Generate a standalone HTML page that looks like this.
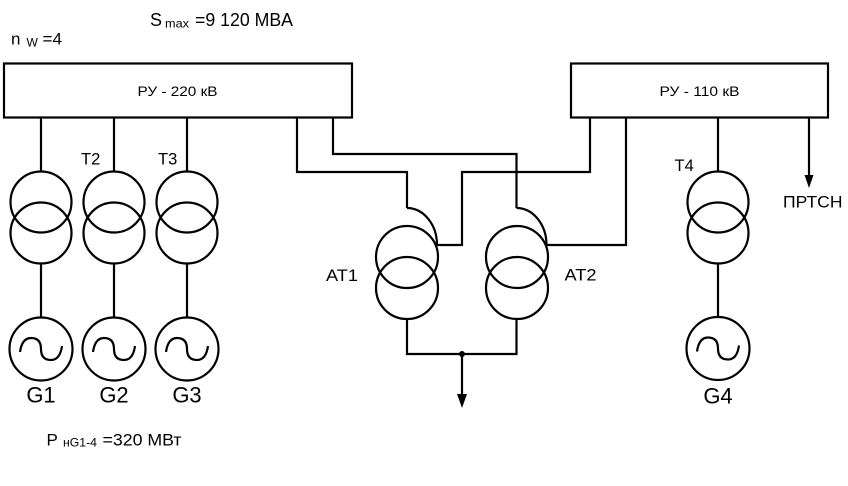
<!DOCTYPE html>
<html>
<head>
<meta charset="utf-8">
<style>
  html, body { margin: 0; padding: 0; background: #ffffff; }
  svg { display: block; }
  text { font-family: "Liberation Sans", "DejaVu Sans", sans-serif; fill: #000; }
</style>
</head>
<body>
<svg width="848" height="486" viewBox="0 0 848 486" xmlns="http://www.w3.org/2000/svg">
  <rect x="0" y="0" width="848" height="486" fill="#ffffff"/>

  <!-- header texts -->
  <text x="150" y="26" font-size="18">S</text>
  <text x="165" y="27.5" font-size="12" textLength="24" lengthAdjust="spacingAndGlyphs">max</text>
  <text x="195" y="26" font-size="18" textLength="98" lengthAdjust="spacingAndGlyphs">=9 120 MBA</text>

  <text x="11" y="44.5" font-size="17">n</text>
  <text x="26.5" y="46.5" font-size="12">W</text>
  <text x="42.5" y="44.5" font-size="17" textLength="19.5" lengthAdjust="spacingAndGlyphs">=4</text>

  <g fill="none" stroke="#000" stroke-width="2.2">
    <!-- switchgear boxes -->
    <rect x="4" y="63.5" width="348" height="54" fill="#fff"/>
    <rect x="571" y="63.5" width="257" height="54" fill="#fff"/>

    <!-- T1..T3 connections -->
    <line x1="41" y1="117.5" x2="41" y2="172"/>
    <line x1="114" y1="117.5" x2="114" y2="172"/>
    <line x1="187" y1="117.5" x2="187" y2="172"/>
    <line x1="41" y1="263" x2="41" y2="318"/>
    <line x1="114" y1="263" x2="114" y2="318"/>
    <line x1="187" y1="263" x2="187" y2="318"/>

    <!-- transformers T1..T3 -->
    <circle cx="41" cy="202" r="30.5"/>
    <circle cx="41" cy="233" r="30.5"/>
    <circle cx="114" cy="202" r="30.5"/>
    <circle cx="114" cy="233" r="30.5"/>
    <circle cx="187" cy="202" r="30.5"/>
    <circle cx="187" cy="233" r="30.5"/>

    <!-- generators G1..G3 -->
    <circle cx="41" cy="349" r="31.5"/>
    <circle cx="114" cy="349" r="31.5"/>
    <circle cx="187" cy="349" r="31.5"/>
    <path d="M20 352 Q22 338 31 338 Q41 338 41 349 Q41 360 51 360 Q60 360 62 346"/>
    <path d="M93 352 Q95 338 104 338 Q114 338 114 349 Q114 360 124 360 Q133 360 135 346"/>
    <path d="M166 352 Q168 338 177 338 Q187 338 187 349 Q187 360 197 360 Q206 360 208 346"/>

    <!-- 220 kV to AT1 -->
    <polyline points="297,117.5 297,172 407,172 407,208"/>
    <path d="M407 208 A30 37 0 0 1 437 245"/>
    <!-- 220 kV to AT2 -->
    <polyline points="333,117.5 333,154 516.5,154 516.5,208"/>
    <path d="M516.5 208 A30 37 0 0 1 546.5 245"/>

    <!-- AT1 to 110 kV -->
    <polyline points="436,245 462,245 462,172 590,172 590,117.5"/>
    <!-- AT2 to 110 kV -->
    <polyline points="546,245 626,245 626,117.5"/>

    <!-- autotransformers -->
    <circle cx="407" cy="257" r="31"/>
    <circle cx="407" cy="288" r="31"/>
    <circle cx="517" cy="257" r="31"/>
    <circle cx="517" cy="288" r="31"/>

    <!-- AT low-voltage side -->
    <polyline points="407,319 407,354 516.5,354 516.5,319"/>
    <line x1="462" y1="354" x2="462" y2="395"/>

    <!-- T4 & G4 -->
    <line x1="718" y1="117.5" x2="718" y2="172"/>
    <circle cx="718" cy="202" r="30.5"/>
    <circle cx="718" cy="233" r="30.5"/>
    <line x1="718" y1="263" x2="718" y2="317"/>
    <circle cx="718" cy="348.5" r="31.5"/>
    <path d="M697 351.5 Q699 337.5 708 337.5 Q718 337.5 718 348.5 Q718 359.5 728 359.5 Q737 359.5 739 345.5"/>

    <!-- PRTSN feeder -->
    <line x1="809" y1="117.5" x2="809" y2="176"/>
  </g>

  <!-- arrowheads and junction -->
  <circle cx="462" cy="354" r="3" fill="#000"/>
  <polygon points="457,394 467,394 462,408" fill="#000"/>
  <polygon points="804.5,175 813.5,175 809,188" fill="#000"/>

  <!-- box labels -->
  <text x="137.5" y="96" font-size="14" textLength="80" lengthAdjust="spacingAndGlyphs">РУ - 220 кВ</text>
  <text x="659.5" y="96" font-size="14" textLength="80" lengthAdjust="spacingAndGlyphs">РУ - 110 кВ</text>

  <!-- transformer labels -->
  <text x="81" y="164.5" font-size="16.5">T2</text>
  <text x="158" y="164.5" font-size="16.5">T3</text>
  <text x="674.5" y="171" font-size="16.5">T4</text>
  <text x="326" y="281" font-size="17" textLength="32" lengthAdjust="spacingAndGlyphs">AT1</text>
  <text x="564.5" y="280.5" font-size="17" textLength="32" lengthAdjust="spacingAndGlyphs">AT2</text>
  <text x="783" y="207.5" font-size="16.5" textLength="59.5" lengthAdjust="spacingAndGlyphs">ПРТСН</text>

  <!-- generator labels -->
  <text x="41" y="402.5" font-size="22" text-anchor="middle">G1</text>
  <text x="114" y="402.5" font-size="22" text-anchor="middle">G2</text>
  <text x="187" y="402.5" font-size="22" text-anchor="middle">G3</text>
  <text x="718" y="403.5" font-size="22" text-anchor="middle">G4</text>

  <!-- power label -->
  <text x="46.5" y="445.5" font-size="17">P</text>
  <text x="63" y="446.5" font-size="12" textLength="34" lengthAdjust="spacingAndGlyphs">нG1-4</text>
  <text x="102.5" y="445.5" font-size="17" textLength="79" lengthAdjust="spacingAndGlyphs">=320 МВт</text>
</svg>
</body>
</html>
